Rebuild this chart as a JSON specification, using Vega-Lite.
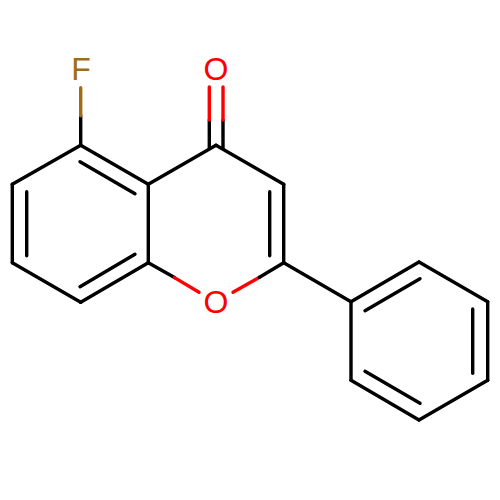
{
  "$schema": "https://vega.github.io/schema/vega-lite/v6.json",
  "autosize": {"type": "fit", "contains": "padding"},
  "width": 500,
  "height": 500,
  "padding": 0,
  "background": "white",
  "config": {"view": {"stroke": null}},
  "datasets": {
    "bonds": [
      {"x": 80.7, "y": 145.3, "x2": 148.3, "y2": 184.3, "atom": "C"},
      {"x": 148.3, "y": 184.3, "x2": 148.3, "y2": 262.7, "atom": "C"},
      {"x": 148.3, "y": 262.7, "x2": 80.7, "y2": 302.3, "atom": "C"},
      {"x": 80.7, "y": 302.3, "x2": 12.3, "y2": 262.7, "atom": "C"},
      {"x": 12.3, "y": 262.7, "x2": 12.3, "y2": 184.3, "atom": "C"},
      {"x": 12.3, "y": 184.3, "x2": 80.7, "y2": 145.3, "atom": "C"},
      {"x": 80, "y": 161.7, "x2": 135, "y2": 193.7, "atom": "C"},
      {"x": 26.7, "y": 191.7, "x2": 26.7, "y2": 255.7, "atom": "C"},
      {"x": 80, "y": 286.7, "x2": 135, "y2": 254.3, "atom": "C"},
      {"x": 148.3, "y": 184.3, "x2": 216, "y2": 145.3, "atom": "C"},
      {"x": 216, "y": 145.3, "x2": 283.7, "y2": 184.3, "atom": "C"},
      {"x": 283.7, "y": 184.3, "x2": 283.7, "y2": 262.7, "atom": "C"},
      {"x": 269.7, "y": 191.7, "x2": 269.7, "y2": 255.7, "atom": "C"},
      {"x": 80.7, "y": 145.3, "x2": 80.7, "y2": 115.7, "atom": "C"},
      {"x": 80.7, "y": 115.7, "x2": 80.7, "y2": 87.7, "atom": "F"},
      {"x": 209.3, "y": 148, "x2": 209.3, "y2": 120, "atom": "C"},
      {"x": 209.3, "y": 120, "x2": 209.3, "y2": 87, "atom": "O"},
      {"x": 223, "y": 148, "x2": 223, "y2": 120, "atom": "C"},
      {"x": 223, "y": 120, "x2": 223, "y2": 87, "atom": "O"},
      {"x": 148.3, "y": 262.7, "x2": 174.5, "y2": 277.6, "atom": "C"},
      {"x": 174.5, "y": 277.6, "x2": 199, "y2": 292.3, "atom": "O"},
      {"x": 233, "y": 292.3, "x2": 259.5, "y2": 277.3, "atom": "O"},
      {"x": 259.5, "y": 277.3, "x2": 283.7, "y2": 262.7, "atom": "C"},
      {"x": 283.7, "y": 262.7, "x2": 351, "y2": 301.7, "atom": "C"},
      {"x": 351, "y": 301.7, "x2": 419, "y2": 262, "atom": "C"},
      {"x": 419, "y": 262, "x2": 487.7, "y2": 301.7, "atom": "C"},
      {"x": 487.7, "y": 301.7, "x2": 487.7, "y2": 380.3, "atom": "C"},
      {"x": 487.7, "y": 380.3, "x2": 419, "y2": 420, "atom": "C"},
      {"x": 419, "y": 420, "x2": 351, "y2": 380.3, "atom": "C"},
      {"x": 351, "y": 380.3, "x2": 351, "y2": 301.7, "atom": "C"},
      {"x": 365, "y": 310.7, "x2": 420, "y2": 278.7, "atom": "C"},
      {"x": 472.7, "y": 309, "x2": 472.7, "y2": 373.3, "atom": "C"},
      {"x": 365, "y": 371.3, "x2": 420, "y2": 403.3, "atom": "C"}
    ],
    "labels": [
      {"x": 81, "y": 70, "label": "F", "atom": "F"},
      {"x": 216, "y": 70, "label": "O", "atom": "O"},
      {"x": 216, "y": 303, "label": "O", "atom": "O"}
    ]
  },
  "layer": [
    {
      "data": {"name": "bonds"},
      "mark": {"type": "rule", "strokeWidth": 3.4, "strokeCap": "round"},
      "encoding": {
        "x": {"field": "x", "type": "quantitative", "scale": {"domain": [0, 500]}, "axis": null},
        "y": {"field": "y", "type": "quantitative", "scale": {"domain": [500, 0]}, "axis": null},
        "x2": {"field": "x2"},
        "y2": {"field": "y2"},
        "color": {
          "field": "atom",
          "type": "nominal",
          "scale": {"domain": ["C", "F", "O"], "range": ["#000000", "#9f6f0f", "#ff0000"]},
          "legend": null
        }
      }
    },
    {
      "data": {"name": "labels"},
      "mark": {"type": "text", "font": "Liberation Sans", "fontSize": 32, "align": "center", "baseline": "middle"},
      "encoding": {
        "x": {"field": "x", "type": "quantitative", "scale": {"domain": [0, 500]}, "axis": null},
        "y": {"field": "y", "type": "quantitative", "scale": {"domain": [500, 0]}, "axis": null},
        "text": {"field": "label"},
        "color": {
          "field": "atom",
          "type": "nominal",
          "scale": {"domain": ["C", "F", "O"], "range": ["#000000", "#9f6f0f", "#ff0000"]},
          "legend": null
        }
      }
    }
  ]
}
